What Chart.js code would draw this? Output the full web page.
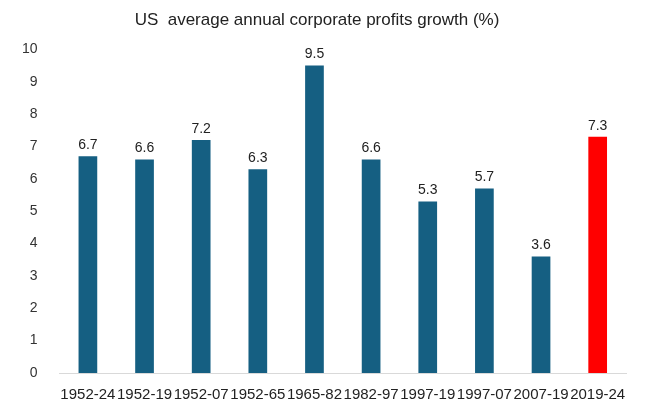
<!DOCTYPE html>
<html><head>
<script src="https://cdn.jsdelivr.net/npm/chart.js@4"></script>
<style>body{margin:0;background:#fff}#wrap{width:650px;height:415px}</style>
</head><body>
<div id="wrap"><canvas id="c"></canvas></div>
<script>
// Chart data
const categories = ['1952-24','1952-19','1952-07','1952-65','1965-82','1982-97','1997-19','1997-07','2007-19','2019-24'];
const growth = [6.7, 6.6, 7.2, 6.3, 9.5, 6.6, 5.3, 5.7, 3.6, 7.3];
const barColors = growth.map((v, i) => i === growth.length - 1 ? '#FF0000' : '#155F82');

// Draw value labels above each bar
const valueLabels = {
    id: 'valueLabels',
    afterDatasetsDraw(chart) {
        const ctx = chart.ctx;
        ctx.save();
        ctx.font = '14px "Liberation Sans", Arial, sans-serif';
        ctx.fillStyle = '#222';
        ctx.textAlign = 'center';
        ctx.textBaseline = 'bottom';
        chart.getDatasetMeta(0).data.forEach((bar, i) => {
            ctx.fillText(growth[i].toFixed(1), bar.x, bar.y - 4);
        });
        ctx.restore();
    }
};

new Chart(document.getElementById('c'), {
    type: 'bar',
    data: {
        labels: categories,
        datasets: [{
            data: growth,
            backgroundColor: barColors,
            barPercentage: 0.33,
            categoryPercentage: 1
        }]
    },
    options: {
        responsive: true,
        maintainAspectRatio: false,
        animation: false,
        layout: { padding: { left: 8, right: 24, top: 4, bottom: 6 } },
        plugins: {
            legend: { display: false },
            tooltip: { enabled: false },
            title: {
                display: true,
                text: 'US  average annual corporate profits growth (%)',
                color: '#222',
                font: { size: 17, family: '"Liberation Sans", Arial, sans-serif', weight: 'normal' },
                padding: { top: 6, bottom: 19 }
            }
        },
        scales: {
            y: {
                min: 0, max: 10,
                ticks: { stepSize: 1, color: '#333', padding: 14, font: { size: 14, family: '"Liberation Sans", Arial, sans-serif' } },
                grid: { display: false },
                border: { display: false }
            },
            x: {
                ticks: { color: '#222', maxRotation: 0, autoSkip: false, padding: 5, font: { size: 15, family: '"Liberation Sans", Arial, sans-serif' } },
                grid: { display: false },
                border: { color: '#d9d9d9' }
            }
        }
    },
    plugins: [valueLabels]
});
</script>
</body></html>
